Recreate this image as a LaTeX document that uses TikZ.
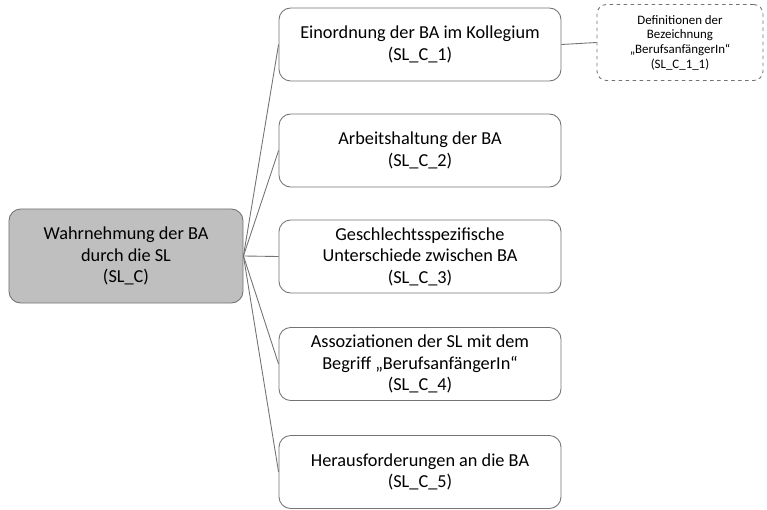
\documentclass[tikz,border=0pt]{standalone}
\usepackage{fontspec}
\setmainfont{Carlito}
\begin{document}
\begin{tikzpicture}[x=0.03cm, y=-0.03cm, every node/.style={font=\fontsize{15.6}{18.4}\selectfont},
    rootbox/.style={draw=black!55, line width=0.75pt, fill=black!25, rounded corners=10pt, align=center, minimum width=7.02cm, minimum height=2.82cm},
    childbox/.style={draw=black!55, line width=0.75pt, fill=white, rounded corners=10pt, align=center, minimum width=8.46cm, minimum height=2.19cm},
    subbox/.style={draw=black!55, line width=0.75pt, dashed, rounded corners=8pt, align=center, minimum width=4.98cm, minimum height=2.28cm, font=\fontsize{11}{12.5}\selectfont},
    link/.style={draw=black!55, line width=0.75pt}]
    \useasboundingbox (0,0) rectangle (767,509);

    % Root
    \node[rootbox] (root) at (126,256) {Wahrnehmung der BA\\durch die SL\\(SL\_C)};

    % Children
    \node[childbox] (c1) at (420,44.5) {Einordnung der BA im Kollegium\\(SL\_C\_1)};
    \node[childbox] (c2) at (420,150.5) {Arbeitshaltung der BA\\(SL\_C\_2)};
    \node[childbox] (c3) at (420,256.5) {Geschlechtsspezifische\\Unterschiede zwischen BA\\(SL\_C\_3)};
    \node[childbox] (c4) at (420,364) {Assoziationen der SL mit dem\\Begriff „BerufsanfängerIn“\\(SL\_C\_4)};
    \node[childbox] (c5) at (420,472) {Herausforderungen an die BA\\(SL\_C\_5)};

    % Sub-category
    \node[subbox] (c11) at (680,42.5) {Definitionen der\\Bezeichnung\\„BerufsanfängerIn“\\(SL\_C\_1\_1)};

    % Connectors
    \foreach \c in {c1,c2,c3,c4,c5}
        \draw[link] (root.east) -- (\c.west);
    \draw[link] (c1.east) -- (c11.west);
\end{tikzpicture}
\end{document}
